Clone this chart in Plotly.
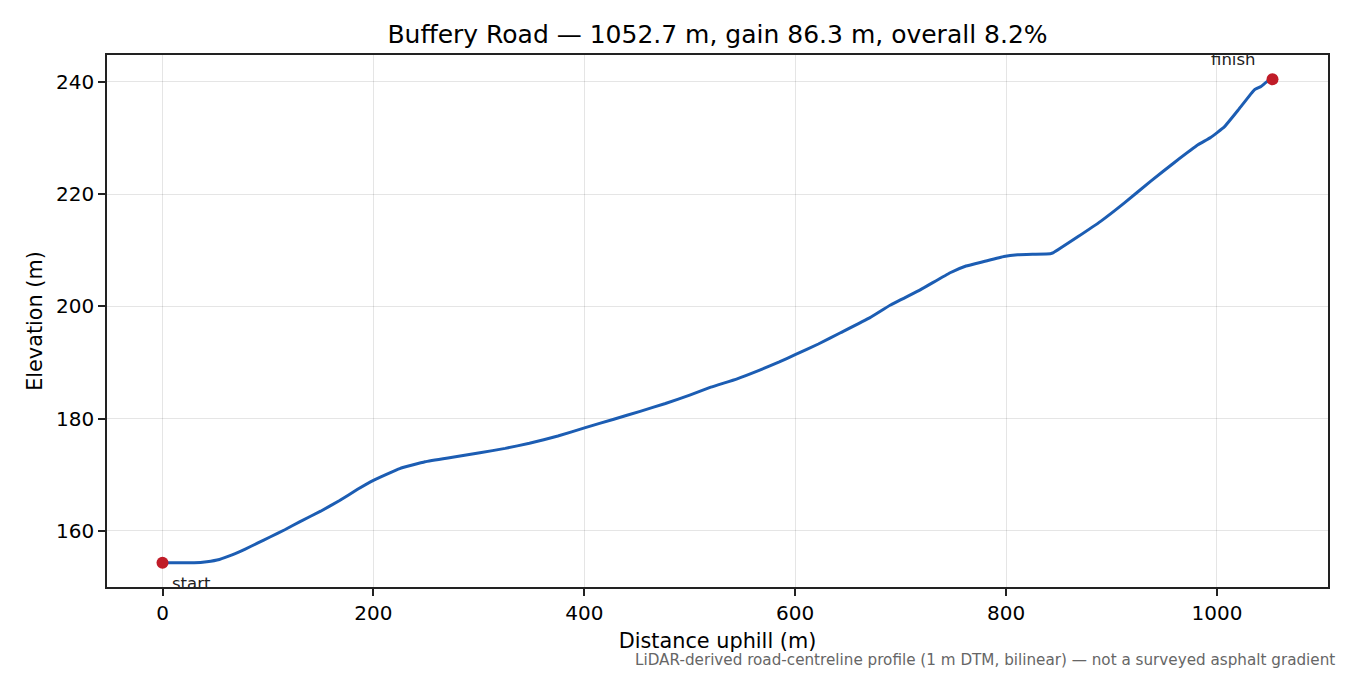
import plotly.graph_objects as go

distance_m = [0, 15, 30, 42, 54, 66, 78, 90, 102, 116, 130, 150, 168, 185, 200, 225, 249, 275, 301, 325, 348, 375, 401, 428, 453, 477, 500, 520, 545, 567, 585, 600, 622, 643, 671, 690, 719, 747, 762, 779, 798, 811, 825, 842, 845, 868, 890, 912, 937, 960, 982, 994, 1007, 1021, 1035.5, 1041.8, 1047, 1052.7]
elevation_m = [154.3, 154.3, 154.3, 154.5, 154.9, 155.7, 156.7, 157.8, 158.9, 160.2, 161.6, 163.5, 165.4, 167.4, 169.0, 171.1, 172.3, 173.1, 173.9, 174.7, 175.6, 176.9, 178.4, 179.9, 181.3, 182.7, 184.2, 185.6, 187.1, 188.7, 190.1, 191.4, 193.3, 195.3, 198.0, 200.2, 203.0, 206.0, 207.2, 208.0, 208.9, 209.2, 209.3, 209.4, 209.6, 212.4, 215.2, 218.4, 222.3, 225.7, 228.8, 230.1, 232.0, 235.2, 238.6, 239.2, 240.0, 240.5]

title_text = "Buffery Road — 1052.7 m, gain 86.3 m, overall 8.2%"
x_title = "Distance uphill (m)"
y_title = "Elevation (m)"
footnote = "LiDAR-derived road-centreline profile (1 m DTM, bilinear) — not a surveyed asphalt gradient"
x_ticks = [0, 200, 400, 600, 800, 1000]
y_ticks = [160, 180, 200, 220, 240]

FONT = "DejaVu Sans"
LINE = "#1c5db3"
RED = "#c01c28"

fig = go.Figure()
fig.add_trace(go.Scatter(x=distance_m, y=elevation_m, mode="lines",
                         line=dict(color=LINE, width=3, shape="spline", smoothing=0.3),
                         showlegend=False, hoverinfo="skip"))
fig.add_trace(go.Scatter(x=[distance_m[0], distance_m[-1]], y=[elevation_m[0], elevation_m[-1]],
                         mode="markers", marker=dict(color=RED, size=12),
                         showlegend=False, hoverinfo="skip"))

span_x = distance_m[-1] - distance_m[0]
span_y = max(elevation_m) - min(elevation_m)
xr = [distance_m[0] - 0.05 * span_x, distance_m[-1] + 0.05 * span_x]
yr = [min(elevation_m) - 0.05 * span_y, max(elevation_m) + 0.05 * span_y]

axis_common = dict(showline=True, linecolor="#222", linewidth=1.5, mirror=True,
                   ticks="outside", ticklen=7, tickwidth=1.5, tickcolor="#222",
                   showgrid=True, gridcolor="rgba(0,0,0,0.1)", gridwidth=1.4,
                   zeroline=False, tickfont=dict(family=FONT, size=20, color="black"))

fig.update_xaxes(range=xr, tickvals=x_ticks, title=dict(text=x_title, font=dict(family=FONT, size=20.8, color="black"), standoff=10), **axis_common)
fig.update_yaxes(range=yr, tickvals=y_ticks, title=dict(text=y_title, font=dict(family=FONT, size=20.8, color="black"), standoff=8), **axis_common)

fig.add_annotation(x=distance_m[0], y=elevation_m[0], text="start", showarrow=False,
                   xanchor="left", yanchor="top", xshift=7, yshift=-9,
                   font=dict(family=FONT, size=16.5, color="#222"))
fig.add_annotation(x=distance_m[-1], y=elevation_m[-1], text="finish", showarrow=False,
                   xanchor="right", yanchor="bottom", xshift=-15, yshift=8,
                   font=dict(family=FONT, size=16.5, color="#222"))
fig.add_annotation(x=1, xref="paper", xanchor="right", xshift=9, y=0, yref="paper", yanchor="middle", yshift=-73,
                   text=footnote, showarrow=False, font=dict(family=FONT, size=15.2, color="#666"))

W, H = 1342, 667
fig.update_layout(
    width=W, height=H,
    margin=dict(l=99, r=22, t=47, b=88),
    paper_bgcolor="white", plot_bgcolor="white",
    title=dict(text=title_text, x=0.5, xref="paper", xanchor="center", y=1 - 26 / H, yanchor="middle",
               font=dict(family=FONT, size=25, color="black")),
)

fig.write_html("out.html")
